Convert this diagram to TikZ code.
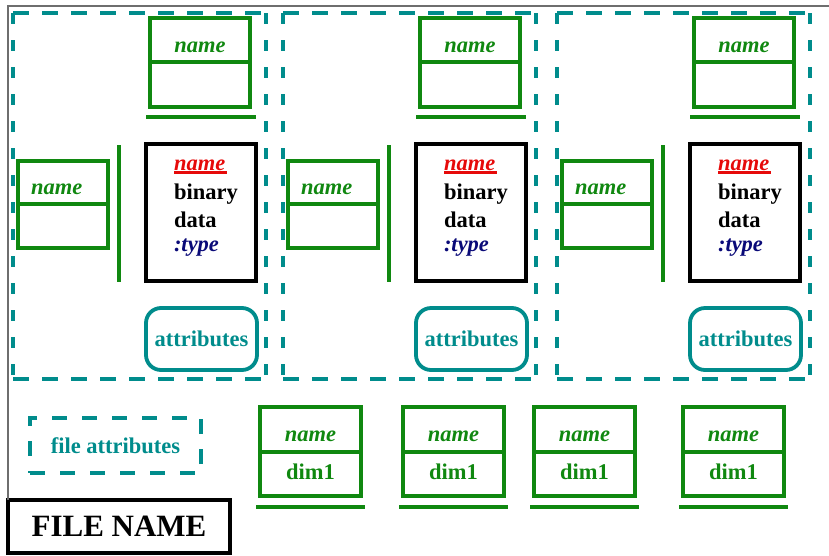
\documentclass[tikz,border=0pt]{standalone}
\usepackage{fontspec}
\setmainfont{Liberation Serif}
\definecolor{fgreen}{RGB}{16,136,16}
\definecolor{fteal}{RGB}{0,140,140}
\definecolor{fnavy}{RGB}{10,10,120}
\definecolor{fred}{RGB}{230,10,10}
\definecolor{fgray}{RGB}{110,110,110}
\begin{document}
\begin{tikzpicture}[x=1pt,y=-1pt,
  every node/.style={inner sep=0pt,outer sep=0pt},
  txt/.style={font=\bfseries\fontsize{22.5}{27}\selectfont},
  itxt/.style={font=\bfseries\itshape\fontsize{22.5}{27}\selectfont},
  gcell/.style={draw=fgreen,line width=3.3pt},
  gbar/.style={draw=fgreen,line width=3.6pt},
  hdash/.style={draw=fteal,line width=3.3pt,dash pattern=on 16pt off 13pt},
  vdash/.style={draw=fteal,line width=3.3pt,dash pattern=on 11pt off 16pt},
  attr/.style={draw=fteal,line width=3.8pt,rounded corners=15pt,
    minimum width=111pt,minimum height=62pt,txt,text=fteal},
  databox/.style={draw=black,line width=4pt,minimum width=110pt,minimum height=137pt}]
\useasboundingbox (0,0) rectangle (829,555);

% three groups: dimension lists, dataset and its attributes
\foreach \ox/\i in {13/1,283/2,557/3}{
  \node[minimum width=253pt,minimum height=366pt] (grp\i) at (\ox+126.5,196) {};
  \draw[hdash] (grp\i.north west) -- (grp\i.north east);
  \draw[hdash] (grp\i.south west) -- (grp\i.south east);
  \draw[vdash] (grp\i.north west) -- (grp\i.south west);
  \draw[vdash] (grp\i.north east) -- (grp\i.south east);
  % dimension list on top
  \node[gcell,minimum width=100pt,minimum height=44pt] (topA\i) at (\ox+187,40) {};
  \node[gcell,minimum width=100pt,minimum height=45pt] (topB\i) at (\ox+187,84.5) {};
  \node[itxt,text=fgreen,anchor=base] (topN\i) at (\ox+187,52) {name};
  \draw[gbar] ([xshift=-4pt,yshift=-10pt]topB\i.south west) -- ([xshift=6pt,yshift=-10pt]topB\i.south east);
  % dimension list at the side
  \node[gcell,minimum width=90pt,minimum height=43pt] (sideA\i) at (\ox+50,182.5) {};
  \node[gcell,minimum width=90pt,minimum height=44pt] (sideB\i) at (\ox+50,226) {};
  \node[itxt,text=fgreen,anchor=base west] (sideN\i) at (\ox+18,194) {name};
  \draw[gbar] (\ox+106,145) -- (\ox+106,282);
  % dataset
  \node[databox] (data\i) at (\ox+188,212.5) {};
  \node[itxt,text=fred,anchor=base west] (dn\i) at (\ox+161,170) {name};
  \draw[fred,line width=2.5pt] ([yshift=-2.5pt]dn\i.base west) -- ([xshift=2pt,yshift=-2.5pt]dn\i.base east);
  \node[txt,anchor=base west] (db\i) at (\ox+161,199) {binary};
  \node[txt,anchor=base west] (dd\i) at (\ox+161,227) {data};
  \node[itxt,text=fnavy,anchor=base west] (dt\i) at (\ox+161,251) {:type};
  % attributes
  \node[attr] (att\i) at (\ox+188.5,339) {attributes};
}

% file attributes
\node[draw=fteal,line width=3.3pt,dash pattern=on 15pt off 15pt,
  minimum width=171pt,minimum height=55pt,txt,text=fteal] (fattr) at (115.5,445.5) {file attributes};

% dimension scales
\foreach \x/\j in {260/1,403/2,534/3,683/4}{
  \node[gcell,minimum width=101pt,minimum height=45pt] (dimA\j) at (\x+50.5,429.5) {};
  \node[gcell,minimum width=101pt,minimum height=44pt] (dimB\j) at (\x+50.5,474) {};
  \node[itxt,text=fgreen,anchor=base] (dimN\j) at (\x+50.5,441) {name};
  \node[txt,text=fgreen,anchor=base] (dimD\j) at (\x+50.5,479) {dim1};
  \draw[gbar] ([xshift=-4pt,yshift=-11pt]dimB\j.south west) -- ([xshift=4pt,yshift=-11pt]dimB\j.south east);
}

% file name and outer frame
\node[draw=black,line width=3.5pt,minimum width=222pt,minimum height=53pt,
  font=\bfseries\fontsize{31}{36}\selectfont] (fname) at (119,526.5) {FILE NAME};
\draw[fgray,line width=1.2pt] (fname.north west) -- (8,6) -- (829,6);
\end{tikzpicture}
\end{document}
